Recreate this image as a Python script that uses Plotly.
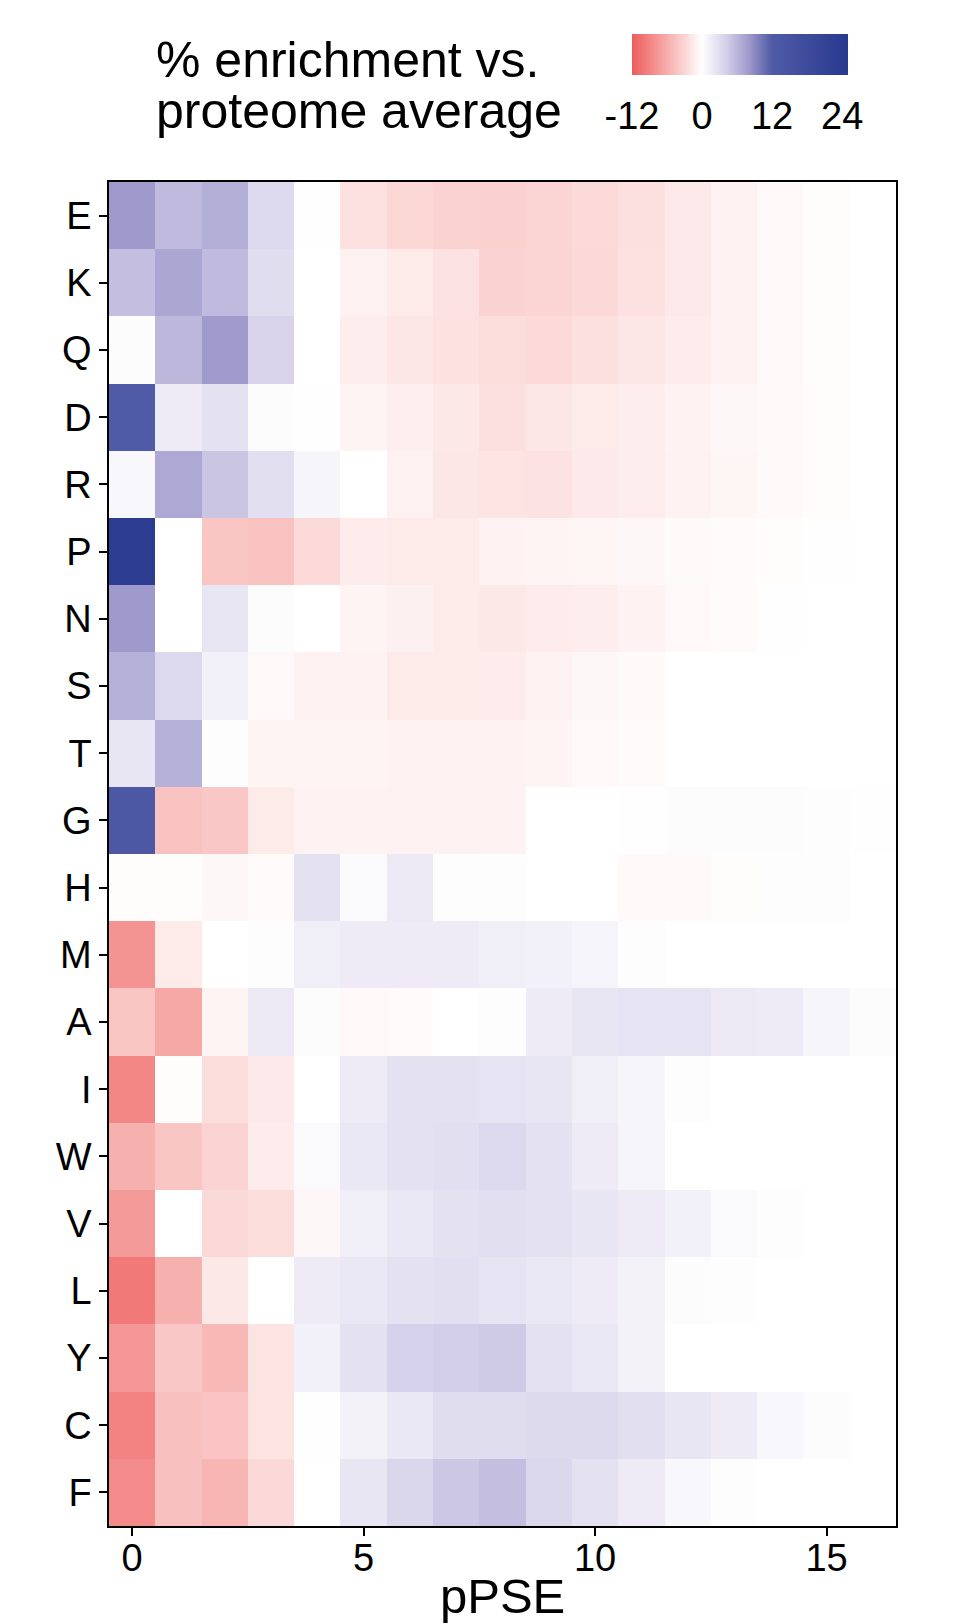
import plotly.graph_objects as go

# pPSE bins (columns) and amino acids (rows, top to bottom)
ppse = list(range(17))
residues = ["E", "K", "Q", "D", "R", "P", "N", "S", "T", "G",
            "H", "M", "A", "I", "W", "V", "L", "Y", "C", "F"]

# % enrichment vs. proteome average, one list per residue
E = [8, 5.6, 6.5, 3.3, -0.1, -2.2, -2.9, -3.3, -3.4, -3.1, -2.7, -2.3, -1.6, -1.0, -0.5, -0.2, 0]
K = [5.3, 7.1, 5.6, 3.0, 0, -1.0, -1.5, -2.1, -3.3, -3.1, -2.8, -2.2, -1.6, -1.0, -0.5, -0.2, 0]
Q = [0.3, 5.9, 7.9, 3.8, 0, -1.3, -1.8, -2.2, -2.5, -2.7, -2.3, -1.8, -1.4, -1.0, -0.5, -0.2, 0]
D = [12, 1.7, 2.6, 0.3, -0.1, -0.8, -1.2, -1.7, -2.3, -1.8, -1.5, -1.3, -0.9, -0.6, -0.4, -0.2, 0]
R = [0.7, 6.9, 4.9, 2.8, 0.9, 0, -1.0, -1.8, -2.0, -2.1, -1.6, -1.3, -1.0, -0.7, -0.4, -0.2, 0]
P = [24, 0, -4.2, -4.5, -2.7, -1.4, -1.5, -1.5, -0.9, -0.8, -0.7, -0.6, -0.4, -0.3, -0.2, -0.1, 0]
N = [8, 0, 2.2, 0.3, 0, -0.8, -1.1, -1.5, -1.7, -1.4, -1.3, -0.9, -0.5, -0.3, -0.1, 0, 0]
S = [6.3, 3.4, 1.3, -0.5, -1.0, -0.9, -1.5, -1.5, -1.4, -0.9, -0.6, -0.4, 0, 0, 0, 0, 0]
T = [2.2, 6.3, 0.2, -0.8, -0.8, -0.8, -0.9, -0.9, -0.9, -0.8, -0.5, -0.3, 0, 0, 0, 0, 0]
G = [13, -4.5, -4.1, -1.5, -0.9, -0.9, -1, -1, -0.9, 0, 0, 0.1, 0.3, 0.3, 0.3, 0.2, 0.1]
H = [-0.2, -0.2, -0.6, -0.3, 2.6, 0.4, 1.9, 0.2, 0.2, 0, 0, -0.4, -0.4, -0.2, 0.2, 0.2, 0]
M = [-7.9, -1.5, 0, 0.2, 1.5, 1.7, 1.7, 1.7, 1.5, 1.3, 1.0, 0.2, 0, 0, 0, 0, 0]
A = [-4.2, -6.4, -0.8, 1.9, 0.3, -0.5, -0.3, 0, 0.2, 1.7, 2.2, 2.4, 2.4, 1.9, 1.7, 0.9, 0.3]
I = [-8.8, -0.2, -2.5, -1.6, 0, 1.7, 2.6, 2.6, 2.4, 2.2, 1.5, 0.9, 0.2, 0, 0, 0, 0]
W = [-5.8, -4.2, -3.2, -1.4, 0.5, 2.0, 2.6, 2.8, 3.4, 2.6, 1.7, 0.9, 0, 0, 0, 0, 0]
V = [-7.4, 0, -2.8, -2.5, -0.6, 1.5, 2.0, 2.6, 2.8, 2.6, 2.2, 1.7, 1.3, 0.5, 0.2, 0, 0]
L = [-9.8, -5.8, -1.7, 0, 1.7, 2.0, 2.6, 2.8, 2.4, 2.0, 1.7, 1.1, 0.3, 0.2, 0, 0, 0]
Y = [-7.6, -4.1, -5.2, -2, 1.3, 2.6, 3.9, 4.3, 4.5, 2.6, 2.0, 1.1, 0, 0, 0, 0, 0]
C = [-9.1, -4.6, -4.3, -2, -0.1, 1.1, 2.0, 3.0, 3.0, 3.2, 3.2, 2.8, 2.2, 1.7, 0.7, 0.3, 0]
F = [-8.5, -4.6, -5.4, -2.8, 0, 2.2, 3.6, 4.7, 5.3, 3.5, 2.6, 1.7, 0.7, 0.2, 0, 0, 0]

z = [E, K, Q, D, R, P, N, S, T, G, H, M, A, I, W, V, L, Y, C, F]

cb_ticks = [-12, 0, 12, 24]
zmin, zmax = -12, 25

FONT = "Liberation Sans, Arial, Helvetica, sans-serif"

# red - white - blue scale, positions given in data units
stops = [(-12, "#EE5C5C"), (-6, "#F6ADAB"), (0, "#FFFFFF"), (4, "#D6D1EA"),
         (8, "#9F9ACB"), (12, "#4F5BA6"), (25, "#28398F")]
colorscale = [[(v - zmin) / (zmax - zmin), c] for v, c in stops]

W_PX, H_PX = 964, 1624
ML, MR, MT, MB = 101, 76, 174, 106
plot_w = W_PX - ML - MR
plot_h = H_PX - MT - MB


def px_x(x):
    return (x - ML) / plot_w


def px_y(y):
    return 1 + (MT - y) / plot_h


fig = go.Figure(go.Heatmap(
    z=z, x=ppse, y=residues,
    colorscale=colorscale, zmin=zmin, zmax=zmax,
    colorbar=dict(
        orientation="h",
        x=px_x(624), xanchor="left",
        y=px_y(26), yanchor="top",
        len=216, lenmode="pixels",
        thickness=41, thicknessmode="pixels",
        xpad=0, ypad=0,
        outlinewidth=0,
        tickvals=cb_ticks, ticktext=[str(v) for v in cb_ticks],
        ticks="outside", tickcolor="white", ticklen=9, tickwidth=1,
        tickfont=dict(family=FONT, size=38, color="black"),
    ),
))

fig.update_xaxes(
    range=[-0.5, 16.5], tickvals=[0, 5, 10, 15],
    ticks="outside", ticklen=8, tickwidth=1.5, tickcolor="black",
    ticklabelstandoff=-10,
    showline=True, linecolor="black", linewidth=1.5, mirror=True,
    showgrid=False, zeroline=False,
    tickfont=dict(family=FONT, size=38, color="black"),
)
fig.update_yaxes(
    autorange="reversed",
    ticks="outside", ticklen=8, tickwidth=1.5, tickcolor="black",
    showline=True, linecolor="black", linewidth=1.5, mirror=True,
    showgrid=False, zeroline=False,
    tickfont=dict(family=FONT, size=38, color="black"),
)

# x axis title
fig.add_annotation(
    text="pPSE", xref="paper", yref="paper",
    x=0.5, y=px_y(1588), xanchor="center", yanchor="middle", showarrow=False,
    font=dict(family=FONT, size=49, color="black"),
)

# colour bar title, two lines to the left of the bar
for txt, ypx in [("% enrichment vs.", 52), ("proteome average", 103)]:
    fig.add_annotation(
        text=txt, xref="paper", yref="paper",
        x=px_x(146), y=px_y(ypx),
        xanchor="left", yanchor="middle", showarrow=False,
        font=dict(family=FONT, size=50, color="black"),
    )

fig.update_layout(
    width=W_PX, height=H_PX,
    margin=dict(l=ML, r=MR, t=MT, b=MB),
    paper_bgcolor="white", plot_bgcolor="white",
    font=dict(family=FONT, color="black"),
)

fig.write_html("out.html")
